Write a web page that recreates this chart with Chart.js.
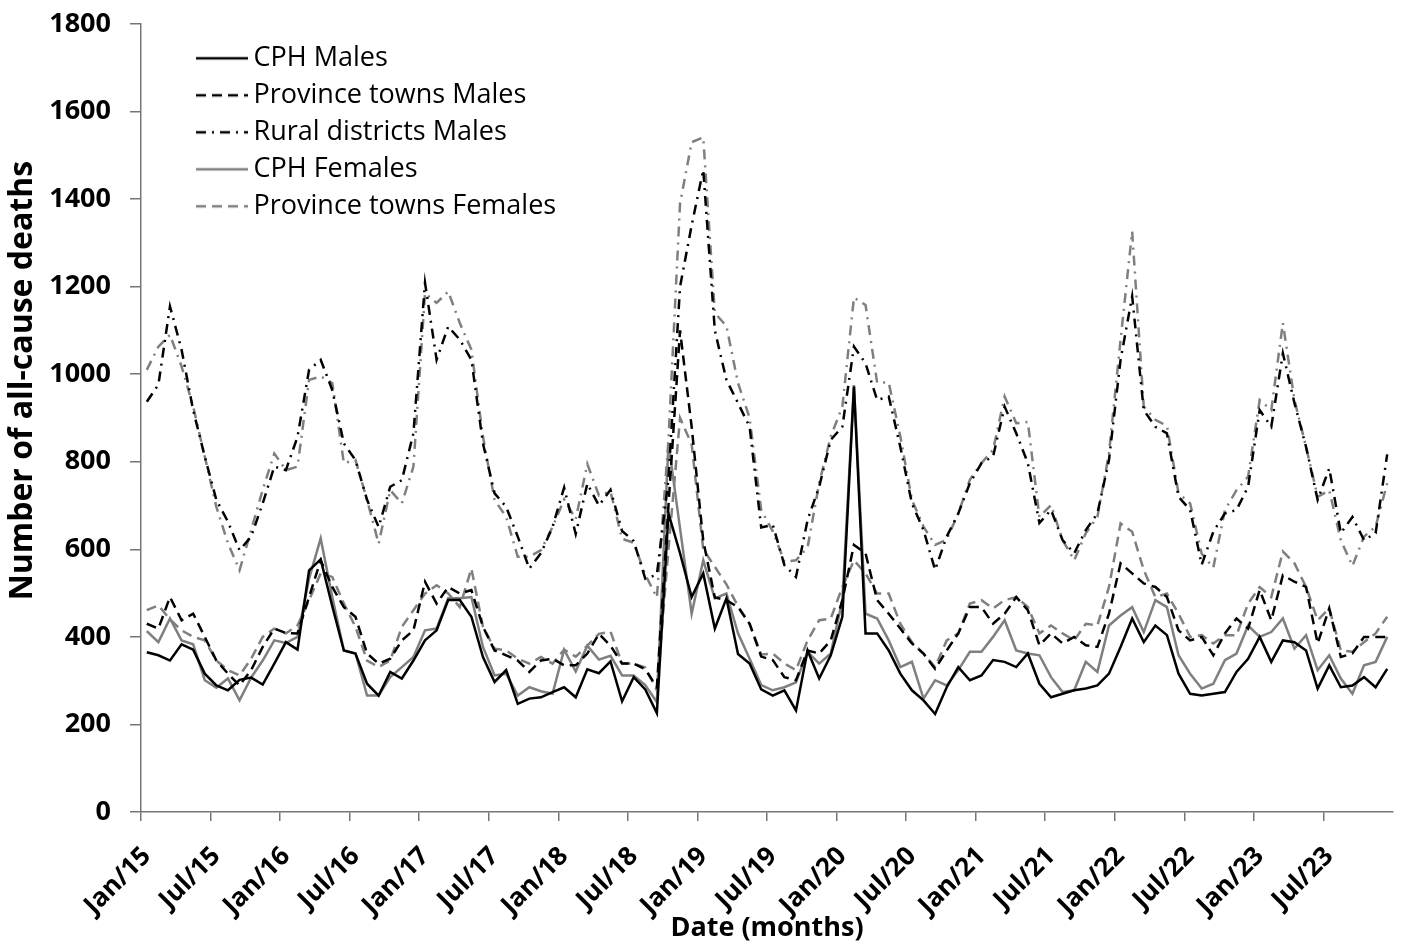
<!DOCTYPE html>
<html>
<head>
<meta charset="utf-8">
<script src="https://cdn.jsdelivr.net/npm/chart.js@4.4.1/dist/chart.umd.min.js"></script>
<style>
html,body{margin:0;padding:0;background:#fff;}
#box{width:1404px;height:945px;}
</style>
</head>
<body>
<div id="box"><canvas id="grafico" width="1404" height="945"></canvas></div>
<script>
// month labels Jan/15 .. Dec/23
const monthNames=['Jan','Feb','Mar','Apr','May','Jun','Jul','Aug','Sep','Oct','Nov','Dec'];
const years=['15','16','17','18','19','20','21','22','23'];
const months=[]; years.forEach(y=>monthNames.forEach(m=>months.push(m+'/'+y)));

// monthly all-cause deaths
const cphMales=[365,358,346,383,371,316,289,278,302,307,291,339,388,371,552,577,470,369,
  362,293,266,320,305,346,392,415,484,484,446,354,297,324,247,259,262,274,
  285,262,326,317,344,253,308,280,226,682,591,491,545,419,488,361,339,280,
  266,278,232,369,305,358,446,972,408,408,369,316,278,255,224,285,331,301,
  312,347,343,331,362,293,262,270,278,282,289,316,377,442,388,426,404,316,
  270,266,270,274,320,350,400,343,392,388,369,282,335,285,289,308,285,327];
const provMales=[430,419,491,438,453,400,346,316,289,324,377,419,409,408,491,575,514,468,
  446,362,339,350,392,415,526,476,514,499,507,423,369,358,346,320,346,350,
  335,335,362,407,380,339,339,326,285,700,1100,880,620,490,484,468,430,355,
  347,308,301,369,362,392,484,610,591,484,453,419,385,362,327,369,408,468,
  468,430,453,491,461,381,408,385,400,381,377,453,568,545,522,514,491,415,
  392,400,358,408,442,419,507,438,541,526,514,385,465,354,362,400,400,400];
const ruralMales=[937,976,1155,1056,918,812,713,663,598,629,705,789,781,857,1010,1033,964,842,
  804,713,651,743,758,865,1209,1033,1109,1079,1033,842,728,697,629,556,591,651,
  741,635,750,700,736,642,619,533,542,760,1200,1340,1467,1100,987,934,880,650,
  656,564,537,667,743,850,880,1063,1025,941,949,834,705,644,553,629,682,751,
  797,812,926,865,797,660,690,621,591,644,682,804,1033,1178,918,880,865,720,
  690,565,640,682,690,743,918,880,1048,934,834,713,785,637,674,621,637,817];
const cphFemales=[413,388,442,392,383,301,284,305,255,307,346,392,386,400,533,625,491,369,
  362,266,266,308,331,354,415,419,488,488,491,377,312,316,266,285,276,270,
  371,321,380,348,357,312,312,290,251,842,648,453,575,488,499,408,350,290,
  278,285,296,366,339,362,484,975,453,442,392,331,343,259,301,289,324,366,
  366,400,438,369,362,358,308,274,278,343,320,426,449,468,411,484,468,358,
  316,282,293,347,362,426,400,411,442,373,404,324,358,305,270,335,343,400];
const provFemales=[461,472,440,415,400,392,346,324,312,350,400,419,408,426,484,545,537,476,
  423,346,331,346,423,461,499,518,499,468,556,423,373,369,350,339,354,339,
  371,355,380,407,412,339,339,330,278,600,900,840,600,560,520,470,430,360,
  362,339,324,392,438,442,514,575,545,499,499,430,388,362,331,392,408,476,
  484,465,484,491,468,408,426,408,392,430,426,514,659,640,553,491,499,453,
  400,404,385,404,404,476,514,491,595,568,514,438,465,369,366,388,408,446];
const ruralFemales=[1010,1063,1090,1018,926,812,697,614,552,644,736,819,781,789,987,995,980,797,
  804,713,613,735,705,789,1185,1163,1189,1117,1056,857,713,674,583,583,598,651,
  714,669,795,723,732,624,615,542,490,850,1390,1530,1541,1140,1110,980,900,690,
  641,572,575,604,751,858,926,1175,1158,981,981,858,713,652,610,622,682,759,
  797,827,949,888,891,674,701,621,575,637,674,819,1079,1326,926,896,882,728,
  705,590,558,690,735,766,941,918,1117,941,834,720,735,621,562,629,652,751];

const BLACK='#000000', GRAY='#7f7f7f';
const DASH=[10,6], DASHDOT=[10,6,2,6];

// small line sample used as legend symbol
function lineSample(color,dash){
  const c=document.createElement('canvas'); c.width=105; c.height=6;
  const g=c.getContext('2d');
  g.strokeStyle=color; g.lineWidth=2.5; g.setLineDash(dash);
  g.beginPath(); g.moveTo(53,3); g.lineTo(105,3); g.stroke();
  return c;
}

const series=[
  {label:'CPH Males', data:cphMales, color:BLACK, dash:[]},
  {label:'Province towns Males', data:provMales, color:BLACK, dash:DASH},
  {label:'Rural districts Males', data:ruralMales, color:BLACK, dash:DASHDOT},
  {label:'CPH Females', data:cphFemales, color:GRAY, dash:[]},
  {label:'Province towns Females', data:provFemales, color:GRAY, dash:DASH},
  {label:'Rural districts Females', data:ruralFemales, color:GRAY, dash:DASHDOT}
];

const fonte='"Open Sans", sans-serif';

new Chart(document.getElementById('grafico'),{
  type:'line',
  data:{
    labels:months,
    datasets:series.map(s=>({label:s.label, data:s.data, borderColor:s.color, backgroundColor:s.color,
      borderDash:s.dash, borderWidth:2.5, pointRadius:0, pointHoverRadius:0, tension:0, fill:false,
      pointStyle:lineSample(s.color,s.dash)}))
  },
  options:{
    responsive:false, animation:false, devicePixelRatio:1,
    layout:{padding:{top:24,right:11,left:0,bottom:0}},
    plugins:{
      legend:{
        position:'chartArea', align:'start',
        title:{display:true, text:'', font:{size:29}, padding:0},
        labels:{usePointStyle:true, pointStyleWidth:89, padding:10, color:'#000',
          font:{family:fonte, size:27}, filter:item=>item.datasetIndex<5}
      },
      tooltip:{enabled:false}
    },
    scales:{
      x:{
        offset:true,
        border:{color:'#767676', width:1.5},
        grid:{drawOnChartArea:false, offset:true, tickLength:9, lineWidth:1.5,
          color:c=>c.index%6===0?'#767676':'rgba(0,0,0,0)'},
        ticks:{autoSkip:false, minRotation:45, maxRotation:45, padding:20, color:'#000',
          font:{family:fonte, size:26, weight:'bold'},
          callback:(v,i)=>i%6===0?months[i]:''},
        title:{display:true, text:'Date (months)', color:'#000', padding:0,
          font:{family:fonte, size:27, weight:'bold'}},
        afterFit:s=>{s.height=133; s.paddingLeft=0; s.paddingRight=0;}
      },
      y:{
        min:0, max:1800,
        border:{color:'#767676', width:1.5},
        grid:{drawOnChartArea:false, tickLength:11, lineWidth:1.5, color:'#767676'},
        ticks:{stepSize:200, padding:19, color:'#000', font:{family:fonte, size:27, weight:'bold'},
          callback:v=>String(v)},
        // leading spaces lift the title a little above the axis centre, as in the source
        title:{display:true, text:'         Number of all-cause deaths', color:'#000', padding:{top:4,bottom:0},
          font:{family:fonte, size:32, weight:'bold'}},
        afterFit:s=>{s.width=141; s.paddingTop=0; s.paddingBottom=0;}
      }
    }
  }
});
</script>
</body>
</html>
